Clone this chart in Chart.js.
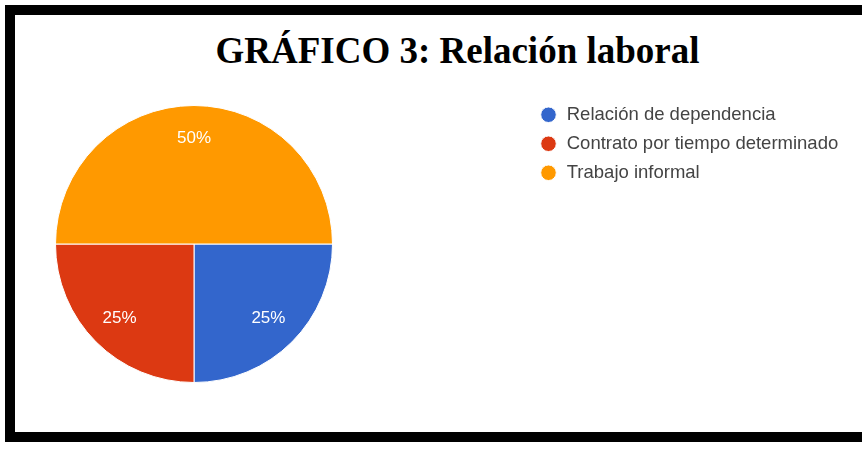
<!DOCTYPE html>
<html>
<head>
<meta charset="utf-8">
<script src="https://cdn.jsdelivr.net/npm/chart.js@4/dist/chart.umd.min.js"></script>
<style>
  html, body { margin: 0; padding: 0; background: #fff; }
  body { width: 862px; height: 450px; overflow: hidden; position: relative; }
  #frame {
    position: absolute; left: 5px; top: 5px; width: 900px; height: 417px;
    border: 10px solid #000; border-right: none;
  }
  #title {
    position: absolute; left: 0; top: 32px; width: 915px; text-align: center;
    font: bold 37px/37px "Liberation Serif", "Times New Roman", serif; color: #000;
  }
  #wrap { position: absolute; left: 0; top: 0; width: 862px; height: 450px; }
</style>
</head>
<body>
<div id="frame"></div>
<div id="title">GRÁFICO 3: Relación laboral</div>
<div id="wrap"><canvas id="pie"></canvas></div>
<script>
// datos del gráfico
const categories = ['Relación de dependencia', 'Contrato por tiempo determinado', 'Trabajo informal'];
const shares = [25, 25, 50];
const sliceColors = ['#3366CC', '#DC3912', '#FF9900'];

// etiquetas de porcentaje dentro de cada porción
const sliceLabels = {
  id: 'sliceLabels',
  afterDatasetsDraw(chart) {
    const ctx = chart.ctx;
    const meta = chart.getDatasetMeta(0);
    const total = shares.reduce((a, b) => a + b, 0);
    ctx.save();
    ctx.fillStyle = '#fff';
    ctx.font = '17px "Liberation Sans", Arial, sans-serif';
    ctx.textAlign = 'center';
    ctx.textBaseline = 'middle';
    meta.data.forEach((arc, i) => {
      const p = arc.getProps(['x', 'y', 'startAngle', 'endAngle', 'outerRadius'], true);
      const mid = (p.startAngle + p.endAngle) / 2;
      const r = p.outerRadius * 0.76;
      const pct = Math.round(shares[i] / total * 100) + '%';
      ctx.fillText(pct, p.x + Math.cos(mid) * r, p.y + Math.sin(mid) * r);
    });
    ctx.restore();
  }
};

// la leyenda va arriba a la derecha, fuera del área del pastel
const legendPlace = {
  id: 'legendPlace',
  afterLayout(chart) {
    const lg = chart.legend;
    lg.left = 529; lg.right = 862;
    lg.width = lg.right - lg.left;
    lg.top = 95; lg.bottom = 95 + lg.height;
  }
};

new Chart(document.getElementById('pie'), {
  type: 'pie',
  data: {
    labels: categories,
    datasets: [{
      data: shares,
      backgroundColor: sliceColors,
      borderColor: '#fff',
      borderWidth: 1
    }]
  },
  options: {
    responsive: true,
    maintainAspectRatio: false,
    animation: false,
    rotation: 90,
    layout: { padding: { left: 55, right: 529, top: 105, bottom: 67 } },
    plugins: {
      tooltip: { enabled: false },
      legend: {
        position: 'chartArea',
        align: 'start',
        labels: {
          usePointStyle: true,
          pointStyle: 'circle',
          boxWidth: 18,
          boxHeight: 11,
          padding: 10.5,
          color: '#444',
          font: { family: '"Liberation Sans", Arial, sans-serif', size: 18.5 }
        }
      }
    }
  },
  plugins: [sliceLabels, legendPlace]
});
</script>
</body>
</html>
